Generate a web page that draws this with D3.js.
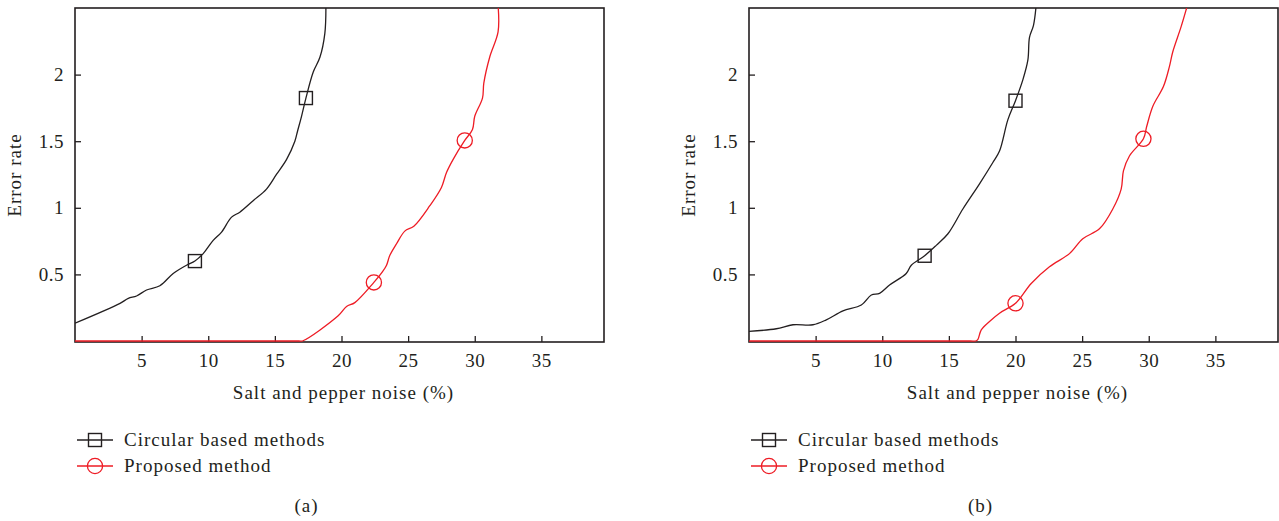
<!DOCTYPE html>
<html><head><meta charset="utf-8">
<script src="https://cdn.jsdelivr.net/npm/d3@7"></script>
<style>body{margin:0;background:#fff}svg text{font-family:"Liberation Serif","DejaVu Serif",serif;fill:#231f20}</style>
</head><body>
<svg id="c" width="1279" height="521"></svg>
<script>
const xTicks=[5,10,15,20,25,30,35];
const yTicks=[0.5,1,1.5,2];
const xLabel="Salt and pepper noise (%)";
const yLabel="Error rate";
const seriesNames=["Circular based methods","Proposed method"];
const panelLabels=["(a)","(b)"];

// Panel (a)
const aCircX=[0,3.38,4.0,4.62,5.37,6.37,7.37,8.37,9.0,9.62,10.37,11.0,11.75,12.37,13.37,14.37,15.13,15.88,16.5,16.7,17.0,17.33,17.88,18.38,18.75,18.83];
const aCircY=[0.134,0.283,0.32,0.338,0.383,0.415,0.507,0.569,0.6,0.656,0.755,0.818,0.93,0.967,1.053,1.14,1.252,1.364,1.5,1.575,1.687,1.824,2.02,2.13,2.31,2.52];
const aPropX=[0,16.8,17.07,19.75,20.38,21.0,22.43,23.08,23.38,23.63,24.13,24.75,25.43,26.63,27.5,27.88,28.38,29.25,29.83,30.0,30.58,30.68,31.13,31.75,31.75];
const aPropY=[0,0,0,0.189,0.259,0.288,0.44,0.52,0.569,0.643,0.73,0.825,0.862,1.016,1.153,1.265,1.364,1.506,1.588,1.687,1.824,1.936,2.134,2.32,2.52];
const aCircMarkX=[9.0,17.33], aCircMarkY=[0.6,1.824];
const aPropMarkX=[22.43,29.25], aPropMarkY=[0.44,1.506];

// Panel (b)
const bCircX=[0,2.05,3.3,4.8,5.8,7.05,8.43,9.18,9.8,10.55,11.8,12.18,13.18,14.05,14.93,16.05,17.3,18.3,18.8,19.43,20.0,20.55,20.93,21.05,21.35,21.55];
const bCircY=[0.072,0.092,0.122,0.122,0.159,0.226,0.27,0.345,0.358,0.42,0.507,0.569,0.64,0.718,0.805,0.991,1.18,1.34,1.426,1.662,1.804,1.96,2.11,2.28,2.37,2.52];
const bPropX=[0,16.6,17.0,17.18,17.43,18.05,18.8,20.0,21.18,22.55,24.05,25.05,26.3,27.3,27.93,28.1,28.55,29.6,29.85,30.3,31.1,31.55,31.8,32.43,32.9];
const bPropY=[0,0,0,0.013,0.084,0.147,0.209,0.283,0.432,0.557,0.656,0.768,0.842,0.991,1.14,1.277,1.389,1.518,1.612,1.761,1.91,2.06,2.17,2.36,2.52];
const bCircMarkX=[13.18,20.0], bCircMarkY=[0.64,1.804];
const bPropMarkX=[20.0,29.6], bPropMarkY=[0.283,1.518];

const panels=[
 {left:75,right:604,circ:[aCircX,aCircY],prop:[aPropX,aPropY],cm:[aCircMarkX,aCircMarkY],pm:[aPropMarkX,aPropMarkY],lab:panelLabels[0]},
 {left:749,right:1278,circ:[bCircX,bCircY],prop:[bPropX,bPropY],cm:[bCircMarkX,bCircMarkY],pm:[bPropMarkX,bPropMarkY],lab:panelLabels[1]}
];
const plotTop=8,plotBottom=342;
const RED="#ee1c25", INK="#231f20";
const FS=19, LS="1px";
const svg=d3.select("#c");
const zip=(xs,ys)=>xs.map((x,i)=>[x,ys[i]]);

panels.forEach((p,pi)=>{
  const x=d3.scaleLinear().domain([0,39.7]).range([p.left,p.right]);
  const y=d3.scaleLinear().domain([0,2.5]).range([plotBottom-1,plotTop]);
  const g=svg.append("g");
  const cid="clip"+pi;
  svg.append("clipPath").attr("id",cid).append("rect").attr("x",p.left).attr("y",plotTop).attr("width",p.right-p.left).attr("height",plotBottom-plotTop+3);
  const xa=d3.axisBottom(x).tickValues(xTicks).tickSizeInner(-6).tickSizeOuter(0).tickPadding(12).tickFormat(d3.format("d"));
  const ya=d3.axisLeft(y).tickValues(yTicks).tickSizeInner(-6).tickSizeOuter(0).tickPadding(11).tickFormat(d=>String(d));
  const gx=g.append("g").attr("transform",`translate(0,${plotBottom})`).call(xa);
  const gy=g.append("g").attr("transform",`translate(${p.left},0)`).call(ya);
  [gx,gy].forEach(a=>{a.select(".domain").remove();a.selectAll("line").attr("stroke",INK).attr("stroke-width",1.3);a.selectAll("text").attr("font-size",FS).attr("fill",INK).style("font-family","'Liberation Serif',serif").style("letter-spacing","0.5px");});
  g.append("rect").attr("x",p.left).attr("y",plotTop).attr("width",p.right-p.left).attr("height",plotBottom-plotTop).attr("fill","none").attr("stroke",INK).attr("stroke-width",1.6);

  const line=d3.line().x(d=>x(d[0])).y(d=>y(d[1])).curve(d3.curveCatmullRom.alpha(0.5));
  const lg=g.append("g").attr("clip-path",`url(#${cid})`);
  lg.append("path").attr("d",line(zip(...p.prop))).attr("fill","none").attr("stroke",RED).attr("stroke-width",1.3);
  lg.append("path").attr("d",line(zip(...p.circ))).attr("fill","none").attr("stroke",INK).attr("stroke-width",1.3);
  zip(...p.cm).forEach(d=>{
    g.append("rect").attr("x",x(d[0])-6.5).attr("y",y(d[1])-6.5).attr("width",13).attr("height",13).attr("fill","none").attr("stroke",INK).attr("stroke-width",1.4);
  });
  zip(...p.pm).forEach(d=>{
    g.append("circle").attr("cx",x(d[0])).attr("cy",y(d[1])).attr("r",7.6).attr("fill","none").attr("stroke",RED).attr("stroke-width",1.3);
  });

  const cx=(p.left+p.right)/2;
  g.append("text").attr("x",cx+4).attr("y",399).attr("text-anchor","middle").attr("font-size",FS).style("letter-spacing",LS).text(xLabel);
  g.append("text").attr("transform",`translate(${p.left-54},175) rotate(-90)`).attr("text-anchor","middle").attr("font-size",FS).style("letter-spacing",LS).text(yLabel);
  const lx=p.left+2;
  [[INK,"sq",440,seriesNames[0]],[RED,"ci",466,seriesNames[1]]].forEach(([c,m,ly,t])=>{
    g.append("line").attr("x1",lx).attr("x2",lx+36).attr("y1",ly).attr("y2",ly).attr("stroke",c).attr("stroke-width",1.3);
    if(m==="sq") g.append("rect").attr("x",lx+18-6.5).attr("y",ly-6.5).attr("width",13).attr("height",13).attr("fill","none").attr("stroke",c).attr("stroke-width",1.4);
    else g.append("circle").attr("cx",lx+18).attr("cy",ly).attr("r",7.6).attr("fill","none").attr("stroke",c).attr("stroke-width",1.3);
    g.append("text").attr("x",lx+47).attr("y",ly+6).attr("font-size",FS).style("letter-spacing",LS).text(t);
  });
  g.append("text").attr("x",cx-33).attr("y",512).attr("text-anchor","middle").attr("font-size",FS).style("letter-spacing",LS).text(p.lab);
});
</script>
</body></html>
